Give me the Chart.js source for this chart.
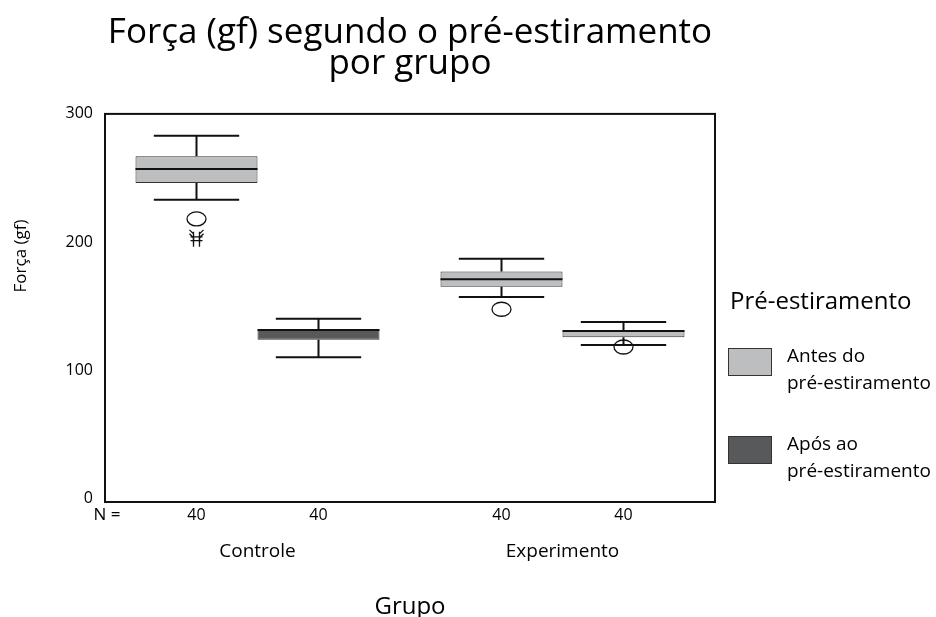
<!DOCTYPE html>
<html>
<head>
<meta charset="utf-8">
<script src="https://cdn.jsdelivr.net/npm/chart.js@4"></script>
<style>
html,body{margin:0;padding:0;background:#fff;}
#wrap{width:936px;height:617px;}
</style>
</head>
<body>
<div id="wrap"><canvas id="c" width="936" height="617"></canvas></div>
<script>
// ---- data ----
const categories = ['Controle', 'Experimento'];
const seriesNames = ['Antes do pré-estiramento', 'Após ao pré-estiramento'];
const legendLines = [['Antes do', 'pré-estiramento'], ['Após ao', 'pré-estiramento']];
const yTickValues = [0, 100, 200, 300];

const antesMin = [233, 157];
const antesQ1 = [246, 165];
const antesMedian = [257, 171];
const antesQ3 = [267, 177];
const antesMax = [283, 187];
const antesOutliers = [[218], [147.5]];
const antesExtremes = [[204, 201], []];
const antesN = [40, 40];

const aposMin = [110, 119.5];
const aposQ1 = [123.7, 125.6];
const aposMedian = [131.3, 130.5];
const aposQ3 = [131.3, 130.5];
const aposMax = [140, 137.6];
const aposOutliers = [[], [118]];
const aposExtremes = [[], []];
const aposN = [40, 40];

const LIGHT = '#bcbec0';
const DARK = '#58595b';
const FONT = "'Open Sans', sans-serif";

const boxStats = [
  {min: antesMin, q1: antesQ1, med: antesMedian, q3: antesQ3, max: antesMax, out: antesOutliers, ext: antesExtremes, n: antesN},
  {min: aposMin, q1: aposQ1, med: aposMedian, q3: aposQ3, max: aposMax, out: aposOutliers, ext: aposExtremes, n: aposN}
];

const boxPlugin = {
  id: 'boxExtras',
  afterDatasetsDraw(chart) {
    const ctx = chart.ctx;
    const y = chart.scales.y;
    const ca = chart.chartArea;
    ctx.save();
    ctx.strokeStyle = '#111';
    ctx.lineCap = 'butt';
    chart.data.datasets.forEach((ds, di) => {
      const meta = chart.getDatasetMeta(di);
      const st = boxStats[di];
      meta.data.forEach((el, i) => {
        const x = el.x, w = el.width;
        const left = x - w / 2, right = x + w / 2;
        const cap = w * 0.35;
        ctx.lineWidth = 2;
        // whiskers
        ctx.beginPath();
        ctx.moveTo(x, y.getPixelForValue(st.q3[i]));
        ctx.lineTo(x, y.getPixelForValue(st.max[i]));
        ctx.moveTo(x, y.getPixelForValue(st.q1[i]));
        ctx.lineTo(x, y.getPixelForValue(st.min[i]));
        ctx.moveTo(x - cap, y.getPixelForValue(st.max[i]));
        ctx.lineTo(x + cap, y.getPixelForValue(st.max[i]));
        ctx.moveTo(x - cap, y.getPixelForValue(st.min[i]));
        ctx.lineTo(x + cap, y.getPixelForValue(st.min[i]));
        ctx.stroke();
        // median
        ctx.beginPath();
        ctx.moveTo(left, y.getPixelForValue(st.med[i]));
        ctx.lineTo(right, y.getPixelForValue(st.med[i]));
        ctx.stroke();
        // outliers (circles)
        ctx.lineWidth = 1.3;
        st.out[i].forEach(v => {
          ctx.beginPath();
          ctx.ellipse(x, y.getPixelForValue(v), 9.5, 7, 0, 0, Math.PI * 2);
          ctx.stroke();
        });
        // extremes (asterisks)
        st.ext[i].forEach(v => {
          const py = y.getPixelForValue(v);
          ctx.beginPath();
          ctx.moveTo(x - 6, py); ctx.lineTo(x + 6, py);
          ctx.moveTo(x - 3, py - 5); ctx.lineTo(x - 3, py + 6);
          ctx.moveTo(x + 3, py - 5); ctx.lineTo(x + 3, py + 6);
          ctx.moveTo(x - 7, py - 7); ctx.lineTo(x - 3, py - 3);
          ctx.moveTo(x + 7, py - 7); ctx.lineTo(x + 3, py - 3);
          ctx.stroke();
        });
        // N labels
        ctx.fillStyle = '#000';
        ctx.font = '16px ' + FONT;
        ctx.textAlign = 'center';
        ctx.textBaseline = 'middle';
        ctx.fillText(String(st.n[i]), x, ca.bottom + 13);
      });
    });
    // frame
    ctx.lineWidth = 2;
    ctx.strokeStyle = '#111';
    ctx.strokeRect(ca.left, ca.top, ca.right - ca.left, ca.bottom - ca.top);
    // N =
    ctx.fillStyle = '#000';
    ctx.font = '17px ' + FONT;
    ctx.textAlign = 'center';
    ctx.textBaseline = 'middle';
    ctx.fillText('N =', ca.left + 2, ca.bottom + 13);
    // y axis title
    ctx.save();
    ctx.translate(21, 256);
    ctx.rotate(-Math.PI / 2);
    ctx.font = '17px ' + FONT;
    ctx.fillText('Força (gf)', 0, 0);
    ctx.restore();
    // legend
    const lx = ca.right + 13;
    ctx.textAlign = 'left';
    ctx.font = '24px ' + FONT;
    ctx.fillText('Pré-estiramento', lx + 2, 302);
    const colors = [LIGHT, DARK];
    const swY = [348, 436];
    ctx.font = '19px ' + FONT;
    legendLines.forEach((lines, k) => {
      ctx.fillStyle = colors[k];
      ctx.fillRect(lx, swY[k], 44, 28);
      ctx.lineWidth = 1;
      ctx.strokeStyle = '#333';
      ctx.strokeRect(lx + 0.5, swY[k] + 0.5, 43, 27);
      ctx.fillStyle = '#000';
      ctx.fillText(lines[0], lx + 59, swY[k] + 9);
      ctx.fillText(lines[1], lx + 59, swY[k] + 36);
    });
    ctx.restore();
  }
};

const datasets = [
  {
    label: seriesNames[0],
    data: categories.map((c, i) => [antesQ1[i], antesQ3[i]]),
    backgroundColor: [LIGHT, LIGHT],
    borderColor: '#333',
    borderWidth: 1,
    borderSkipped: false
  },
  {
    label: seriesNames[1],
    data: categories.map((c, i) => [aposQ1[i], aposQ3[i]]),
    backgroundColor: [DARK, LIGHT],
    borderColor: '#333',
    borderWidth: 1,
    borderSkipped: false
  }
];

new Chart(document.getElementById('c'), {
  type: 'bar',
  data: {labels: categories, datasets: datasets},
  plugins: [boxPlugin],
  options: {
    responsive: false,
    animation: false,
    layout: {padding: {left: 0, right: 221, top: 0, bottom: 0}},
    datasets: {bar: {categoryPercentage: 0.8, barPercentage: 1.0, grouped: true}},
    plugins: {
      legend: {display: false},
      tooltip: {enabled: false},
      title: {
        display: true,
        fullSize: false,
        text: ['Força (gf) segundo o pré-estiramento', 'por grupo'],
        color: '#000',
        font: {family: FONT, size: 35, weight: 'normal', lineHeight: 0.87},
        padding: {top: 18, bottom: 35}
      }
    },
    scales: {
      x: {
        type: 'category',
        offset: true,
        grid: {display: false},
        border: {display: false},
        ticks: {color: '#000', font: {family: FONT, size: 19}, padding: 30},
        title: {display: true, text: 'Grupo', color: '#000', font: {family: FONT, size: 24, lineHeight: 0.85}, padding: {top: 30, bottom: 0}},
        afterFit(s) { s.height = 115; }
      },
      y: {
        min: -3,
        max: 300,
        grid: {display: false},
        border: {display: false},
        afterBuildTicks(s) { s.ticks = yTickValues.map(v => ({value: v})); },
        ticks: {color: '#000', font: {family: FONT, size: 16}, padding: 4},
        afterFit(s) { s.width = 105; }
      }
    }
  }
});
</script>
</body>
</html>
